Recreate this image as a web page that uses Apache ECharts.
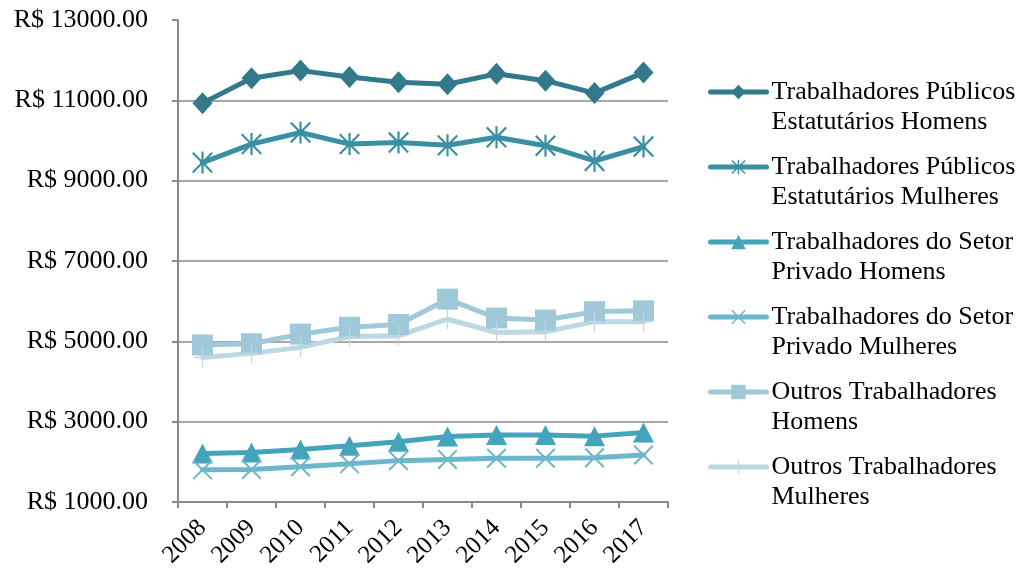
<!DOCTYPE html>
<html>
<head>
<meta charset="utf-8">
<script src="https://cdn.jsdelivr.net/npm/echarts@6/dist/echarts.min.js"></script>
<style>
  html, body { margin: 0; padding: 0; background: #ffffff; }
  #chart { width: 1024px; height: 576px; }
</style>
</head>
<body>
<div id="chart"></div>
<script>
// Anos
const years = ['2008', '2009', '2010', '2011', '2012', '2013', '2014', '2015', '2016', '2017'];

// Rendimento médio (R$) por grupo
const publicosHomens   = [10930, 11550, 11740, 11580, 11450, 11400, 11660, 11490, 11180, 11690];
const publicosMulheres = [9450, 9910, 10200, 9910, 9950, 9880, 10080, 9870, 9490, 9850];
const privadoHomens    = [2210, 2230, 2310, 2400, 2500, 2630, 2670, 2670, 2640, 2730];
const privadoMulheres  = [1800, 1810, 1880, 1950, 2030, 2060, 2090, 2090, 2100, 2170];
const outrosHomens     = [4910, 4940, 5180, 5350, 5420, 6050, 5580, 5530, 5740, 5760];
const outrosMulheres   = [4600, 4700, 4850, 5120, 5140, 5550, 5220, 5240, 5490, 5490];

const seriesNames = [
  'Trabalhadores Públicos\nEstatutários Homens',
  'Trabalhadores Públicos\nEstatutários Mulheres',
  'Trabalhadores do Setor\nPrivado Homens',
  'Trabalhadores do Setor\nPrivado Mulheres',
  'Outros Trabalhadores\nHomens',
  'Outros Trabalhadores\nMulheres'
];

// Marcadores desenhados como caminhos preenchidos
const asteriskPath = 'path://M9,0 L11,0 L11,20 L9,20 Z M1.7,0.3 L19.7,18.3 L18.3,19.7 L0.3,1.7 Z M18.3,0.3 L19.7,1.7 L1.7,19.7 L0.3,18.3 Z';
const crossPath = 'path://M1.7,0.3 L19.7,18.3 L18.3,19.7 L0.3,1.7 Z M18.3,0.3 L19.7,1.7 L1.7,19.7 L0.3,18.3 Z';
const plusPath = 'path://M9.2,0 L10.8,0 L10.8,20 L9.2,20 Z M0,9.2 L20,9.2 L20,10.8 L0,10.8 Z';

const colors = ['#31798b', '#3a8fa3', '#44a4bc', '#6db7cb', '#9fc8d8', '#bcd8e2'];
const dataSets = [publicosHomens, publicosMulheres, privadoHomens, privadoMulheres, outrosHomens, outrosMulheres];
const symbols = ['diamond', asteriskPath, 'triangle', crossPath, 'rect', plusPath];
const symbolSizes = [[20, 22], [21, 22], [21, 20], [20, 20], [21, 21], [16, 20]];

const fontFamily = "'Liberation Serif', 'Times New Roman', serif";

const chart = echarts.init(document.getElementById('chart'), null, { renderer: 'canvas' });

chart.setOption({
  animation: false,
  backgroundColor: '#ffffff',
  color: colors,
  textStyle: { fontFamily: fontFamily },
  grid: { left: 178, top: 20, width: 490, height: 482, containLabel: false },
  legend: {
    orient: 'vertical',
    left: 703,
    top: 42,
    itemWidth: 56,
    itemHeight: 18,
    itemGap: -15,
    data: seriesNames,
    // a leading empty line keeps the icon level with the first text line
    formatter: function (name) { return '\n' + name; },
    lineStyle: { width: 5, cap: 'round' },
    textStyle: {
      fontFamily: fontFamily,
      fontSize: 26,
      color: '#000000',
      lineHeight: 30
    }
  },
  xAxis: {
    type: 'category',
    data: years,
    boundaryGap: true,
    axisLine: { lineStyle: { color: '#8a8a8a', width: 2 } },
    axisTick: { show: true, length: 6, alignWithLabel: false, lineStyle: { color: '#8a8a8a', width: 2 } },
    axisLabel: {
      rotate: 45,
      interval: 0,
      margin: 22,
      fontFamily: fontFamily,
      fontSize: 25,
      color: '#000000'
    },
    splitLine: { show: false }
  },
  yAxis: {
    type: 'value',
    min: 1000,
    max: 13000,
    interval: 2000,
    axisLine: { show: true, lineStyle: { color: '#8a8a8a', width: 2 } },
    axisTick: { show: true, length: 6, lineStyle: { color: '#8a8a8a', width: 2 } },
    axisLabel: {
      margin: 30,
      fontFamily: fontFamily,
      fontSize: 26,
      color: '#000000',
      formatter: function (v) { return 'R$ ' + v.toFixed(2); }
    },
    splitLine: {
      show: true,
      lineStyle: {
        color: ['#8a8a8a', '#8a8a8a', '#8a8a8a', '#8a8a8a', '#8a8a8a', '#8a8a8a', 'rgba(0,0,0,0)'],
        width: 1.5
      }
    }
  },
  series: seriesNames.map(function (name, i) {
    return {
      name: name,
      type: 'line',
      data: dataSets[i],
      symbol: symbols[i],
      symbolSize: symbolSizes[i],
      showAllSymbol: true,
      lineStyle: { width: 5, color: colors[i], cap: 'round', join: 'round' },
      itemStyle: { color: colors[i], borderWidth: 0 },
      emphasis: { disabled: true }
    };
  })
});
</script>
</body>
</html>
